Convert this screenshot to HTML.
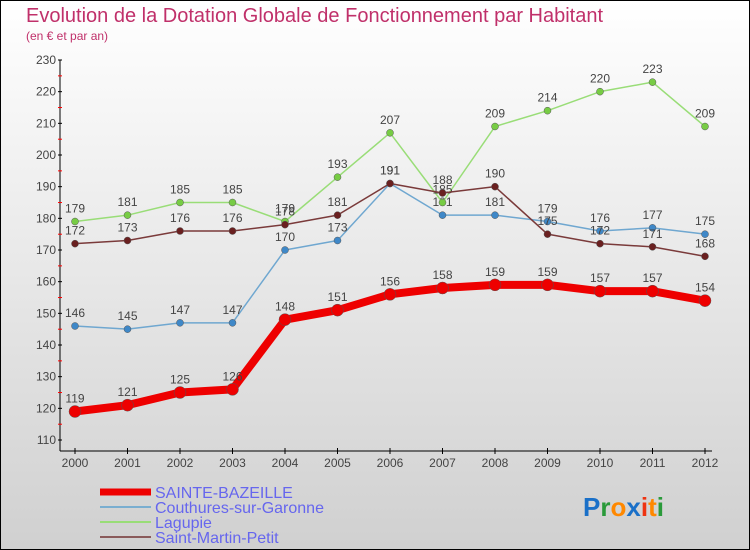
<!DOCTYPE html>
<html><head><meta charset="utf-8"><style>
body{margin:0;}
#wrap{position:relative;width:750px;height:550px;box-sizing:border-box;border:1px solid #000;background:linear-gradient(#ffffff,#d0d0d0);font-family:"Liberation Sans",sans-serif;overflow:hidden}
</style></head><body>
<div id="wrap">
<svg id="chart" width="750" height="550" style="position:absolute;left:-1px;top:-1px"></svg>
</div>
<script>
const years=[2000,2001,2002,2003,2004,2005,2006,2007,2008,2009,2010,2011,2012];
const yTicks=[110,120,130,140,150,160,170,180,190,200,210,220,230];
const sainteBazeille=[119,121,125,126,148,151,156,158,159,159,157,157,154];
const couthures=[146,145,147,147,170,173,191,181,181,179,176,177,175];
const lagupie=[179,181,185,185,179,193,207,185,209,214,220,223,209];
const saintMartin=[172,173,176,176,178,181,191,188,190,175,172,171,168];
const seriesNames=["SAINTE-BAZEILLE","Couthures-sur-Garonne","Lagupie","Saint-Martin-Petit"];

const NS="http://www.w3.org/2000/svg";
const svg=document.getElementById('chart');
function xs(i){return 75+i*52.5;}
function ys(v){return 440-(v-110)*380/120;}
function mk(tag,attrs,parent){const e=document.createElementNS(NS,tag);for(const k in attrs)e.setAttribute(k,attrs[k]);(parent||svg).appendChild(e);return e;}

let t=mk('text',{x:26,y:22,'font-size':20,fill:'#c0306a'});t.textContent='Evolution de la Dotation Globale de Fonctionnement par Habitant';


t=mk('text',{x:26,y:40,'font-size':12,fill:'#c0306a'});t.textContent='(en € et par an)';



// axes
let a=mk('line',{x1:60,y1:60,x2:60,y2:451,stroke:'#000','stroke-width':1});


a=mk('line',{x1:60,y1:451,x2:712,y2:451,stroke:'#000','stroke-width':1});


yTicks.forEach((v,i)=>{
  const y=ys(v);
  mk('line',{x1:58,y1:y,x2:62,y2:y,stroke:'#000'});
  if(i<yTicks.length-1){mk('line',{x1:58,y1:y-15.8,x2:62,y2:y-15.8,stroke:'#f00'});}
  const tx=mk('text',{x:56,y:y+4,'font-size':12,fill:'#444','text-anchor':'end'});tx.textContent=v;
  
  
});
years.forEach((yr,i)=>{
  const x=xs(i);
  mk('line',{x1:x,y1:448,x2:x,y2:454,stroke:'#000'});
  const tx=mk('text',{x:x,y:467,'font-size':12,fill:'#444','text-anchor':'middle'});tx.textContent=yr;
  
  
});

function drawSeries(vals,color,dot,w,r,name){
  const g=mk('g',{});
  
  
  const pts=vals.map((v,i)=>xs(i)+','+ys(v)).join(' ');
  const pl=mk('polyline',{points:pts,fill:'none',stroke:color,'stroke-width':w,'stroke-linejoin':'round'},g);
  
  
  vals.forEach((v,i)=>{
    const c=mk('circle',{cx:xs(i),cy:ys(v),r:r,fill:dot,stroke:'#555','stroke-width':0.5},g);
    
    
    const tx=mk('text',{x:xs(i),y:ys(v)-9,'font-size':12,fill:'#444','text-anchor':'middle'},g);tx.textContent=v;
    
    
  });
}
drawSeries(couthures,'#6fa7d0','#3f88c8',1.5,3.5,'couthures');
drawSeries(lagupie,'#99dd77','#77cc44',1.5,3.5,'lagupie');
drawSeries(saintMartin,'#7a3a3a','#6a2020',1.5,3.5,'saint-martin-petit');
drawSeries(sainteBazeille,'#ee0000','#ee0000',8,6,'sainte-bazeille');

// legend
const legColors=['#ee0000','#7aaed0','#99dd77','#8a5a5a'];
const legW=[7,2,2,2];
legColors.forEach((c,i)=>{
  const y=492+i*15;
  const g=mk('g',{});
  
  
  mk('line',{x1:100,y1:y,x2:151,y2:y,stroke:c,'stroke-width':legW[i]},g);
  const tx=mk('text',{x:155,y:y+6,'font-size':16,fill:'#6666ee'},g);tx.textContent=seriesNames[i];
});

// logo
const lg=mk('text',{x:583,y:516,'font-size':26,'font-weight':'bold'});


[['P','#1a70c8'],['r','#2a9a3a'],['o','#ff8800'],['x','#1a70c8'],['i','#ee3311'],['t','#ff8800'],['i','#2a9a3a']].forEach(([ch,c])=>{const s=mk('tspan',{fill:c},lg);s.textContent=ch;});
</script>
</body></html>
